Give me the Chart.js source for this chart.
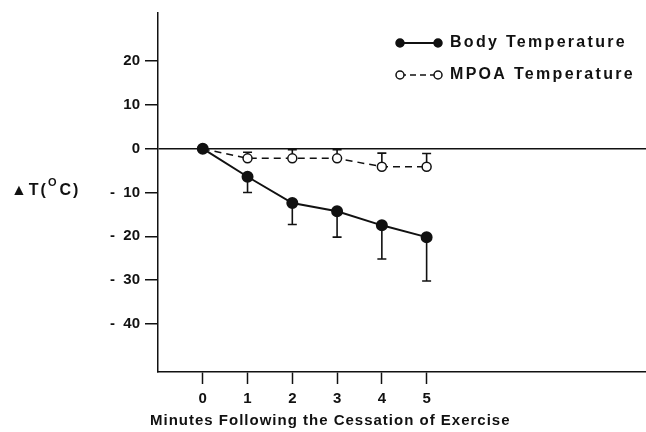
<!DOCTYPE html>
<html>
<head>
<meta charset="utf-8">
<script src="https://cdn.jsdelivr.net/npm/chart.js@4.4.1/dist/chart.umd.min.js"></script>
<style>
  html, body { margin: 0; padding: 0; background: #fff; overflow: hidden; }
  #wrap { width: 646px; height: 432px; position: relative; }
</style>
</head>
<body>
<div id="wrap"><canvas id="c"></canvas></div>
<script>
// ---- data ----
const minutes = [0, 1, 2, 3, 4, 5];
const bodyTemp = [0, -6.4, -12.4, -14.3, -17.5, -20.2];
const bodyErrLow = [0, -10, -17.3, -20.2, -25.2, -30.2];
const mpoaTemp = [0, -2.2, -2.2, -2.2, -4.1, -4.1];
const mpoaErrHigh = [0, -0.8, -0.2, -0.2, -1.0, -1.1];
const xTicks = [0, 1, 2, 3, 4, 5];
const yTicks = [20, 10, 0, -10, -20, -30, -40];
const seriesNames = ['Body Temperature', 'MPOA Temperature'];
const xTitle = 'Minutes Following the Cessation of Exercise';
const yTitleMain = '\u25B2T(';
const yTitleSup = 'O';
const yTitleEnd = 'C)';

const INK = '#111';
const FONT = '"Liberation Sans", Arial, sans-serif';

const errorBars = {
  id: 'errorBars',
  beforeDatasetsDraw(chart) {
    const { ctx, scales: { x, y } } = chart;
    ctx.save();
    ctx.strokeStyle = INK;
    ctx.lineWidth = 1.6;
    const cap = 4.5;
    const drawBar = (xv, from, to) => {
      const px = x.getPixelForValue(xv);
      const p1 = y.getPixelForValue(from);
      const p2 = y.getPixelForValue(to);
      ctx.beginPath();
      ctx.moveTo(px, p1); ctx.lineTo(px, p2);
      ctx.moveTo(px - cap, p2); ctx.lineTo(px + cap, p2);
      ctx.stroke();
    };
    minutes.forEach((m, i) => {
      if (i === 0) return;
      drawBar(m, bodyTemp[i], bodyErrLow[i]);
      drawBar(m, mpoaTemp[i], mpoaErrHigh[i]);
    });
    ctx.restore();
  }
};

const extraText = {
  id: 'extraText',
  afterDraw(chart) {
    const { ctx } = chart;
    ctx.save();
    ctx.fillStyle = INK;
    ctx.strokeStyle = INK;
    // x title
    ctx.font = 'bold 15px ' + FONT;
    ctx.letterSpacing = '1px';
    ctx.textBaseline = 'middle';
    ctx.textAlign = 'left';
    ctx.fillText(xTitle, 150, 421);
    // y title
    ctx.font = 'bold 16px ' + FONT;
    ctx.letterSpacing = '2px';
    let xp = 11;
    ctx.fillText(yTitleMain, xp, 191);
    xp += ctx.measureText(yTitleMain).width;
    ctx.font = 'bold 11px ' + FONT;
    ctx.fillText(yTitleSup, xp, 183);
    xp += ctx.measureText(yTitleSup).width + 1;
    ctx.font = 'bold 16px ' + FONT;
    ctx.fillText(yTitleEnd, xp, 191);

    // legend
    const rows = [
      { y: 43, dash: [], fill: INK },
      { y: 75, dash: [6, 4], fill: '#fff' }
    ];
    rows.forEach((r, i) => {
      ctx.save();
      ctx.lineWidth = i === 0 ? 2 : 1.5;
      ctx.setLineDash(r.dash);
      ctx.beginPath();
      ctx.moveTo(400, r.y); ctx.lineTo(438, r.y);
      ctx.stroke();
      ctx.setLineDash([]);
      [400, 438].forEach(cx => {
        ctx.beginPath();
        ctx.arc(cx, r.y, 4, 0, Math.PI * 2);
        ctx.fillStyle = r.fill;
        ctx.fill();
        ctx.lineWidth = 1.5;
        ctx.stroke();
      });
      ctx.restore();
      ctx.font = 'bold 16px ' + FONT;
      ctx.letterSpacing = '2.3px';
      ctx.fillStyle = INK;
      ctx.textAlign = 'left';
      ctx.fillText(seriesNames[i], 450, r.y);
    });
    ctx.restore();
  }
};

new Chart(document.getElementById('c'), {
  type: 'line',
  data: {
    datasets: [
      {
        label: seriesNames[0],
        data: minutes.map((m, i) => ({ x: m, y: bodyTemp[i] })),
        borderColor: INK,
        borderWidth: 2,
        pointRadius: 5,
        pointBackgroundColor: INK,
        pointBorderColor: INK,
        tension: 0
      },
      {
        label: seriesNames[1],
        data: minutes.map((m, i) => ({ x: m, y: mpoaTemp[i] })),
        borderColor: INK,
        borderWidth: 1.5,
        borderDash: [7, 5],
        pointRadius: 4.5,
        pointBorderWidth: 1.5,
        pointBackgroundColor: '#fff',
        pointBorderColor: INK,
        tension: 0
      }
    ]
  },
  options: {
    responsive: true,
    maintainAspectRatio: false,
    animation: false,
    layout: { autoPadding: false, padding: { top: 13, right: 0, left: 0, bottom: 0 } },
    plugins: { legend: { display: false }, tooltip: { enabled: false } },
    scales: {
      x: {
        type: 'linear',
        min: -1, max: 9.9,
        afterBuildTicks(s) { s.ticks = xTicks.map(v => ({ value: v })); },
        afterFit(s) { s.height = 60; s.paddingLeft = 0; s.paddingRight = 0; },
        grid: { drawOnChartArea: false, tickLength: 12, tickColor: INK, tickWidth: 1.5 },
        border: { display: true, color: INK, width: 1.5 },
        ticks: {
          color: INK, padding: 6,
          font: { family: FONT, size: 15, weight: 'bold' },
          maxRotation: 0, autoSkip: false
        }
      },
      y: {
        min: -51, max: 31,
        afterBuildTicks(s) { s.ticks = yTicks.map(v => ({ value: v })); },
        afterFit(s) { s.width = 158; s.paddingTop = 0; s.paddingBottom = 0; },
        grid: {
          color: c => (c.tick && c.tick.value === 0) ? INK : 'rgba(0,0,0,0)',
          lineWidth: 1.5,
          tickLength: 13, tickColor: INK, tickWidth: 1.5
        },
        border: { display: true, color: INK, width: 1.5 },
        ticks: {
          color: INK, padding: 5,
          font: { family: FONT, size: 15, weight: 'bold' },
          callback: v => v < 0 ? '-  ' + Math.abs(v) : String(v)
        }
      }
    }
  },
  plugins: [errorBars, extraText]
});
</script>
</body>
</html>
